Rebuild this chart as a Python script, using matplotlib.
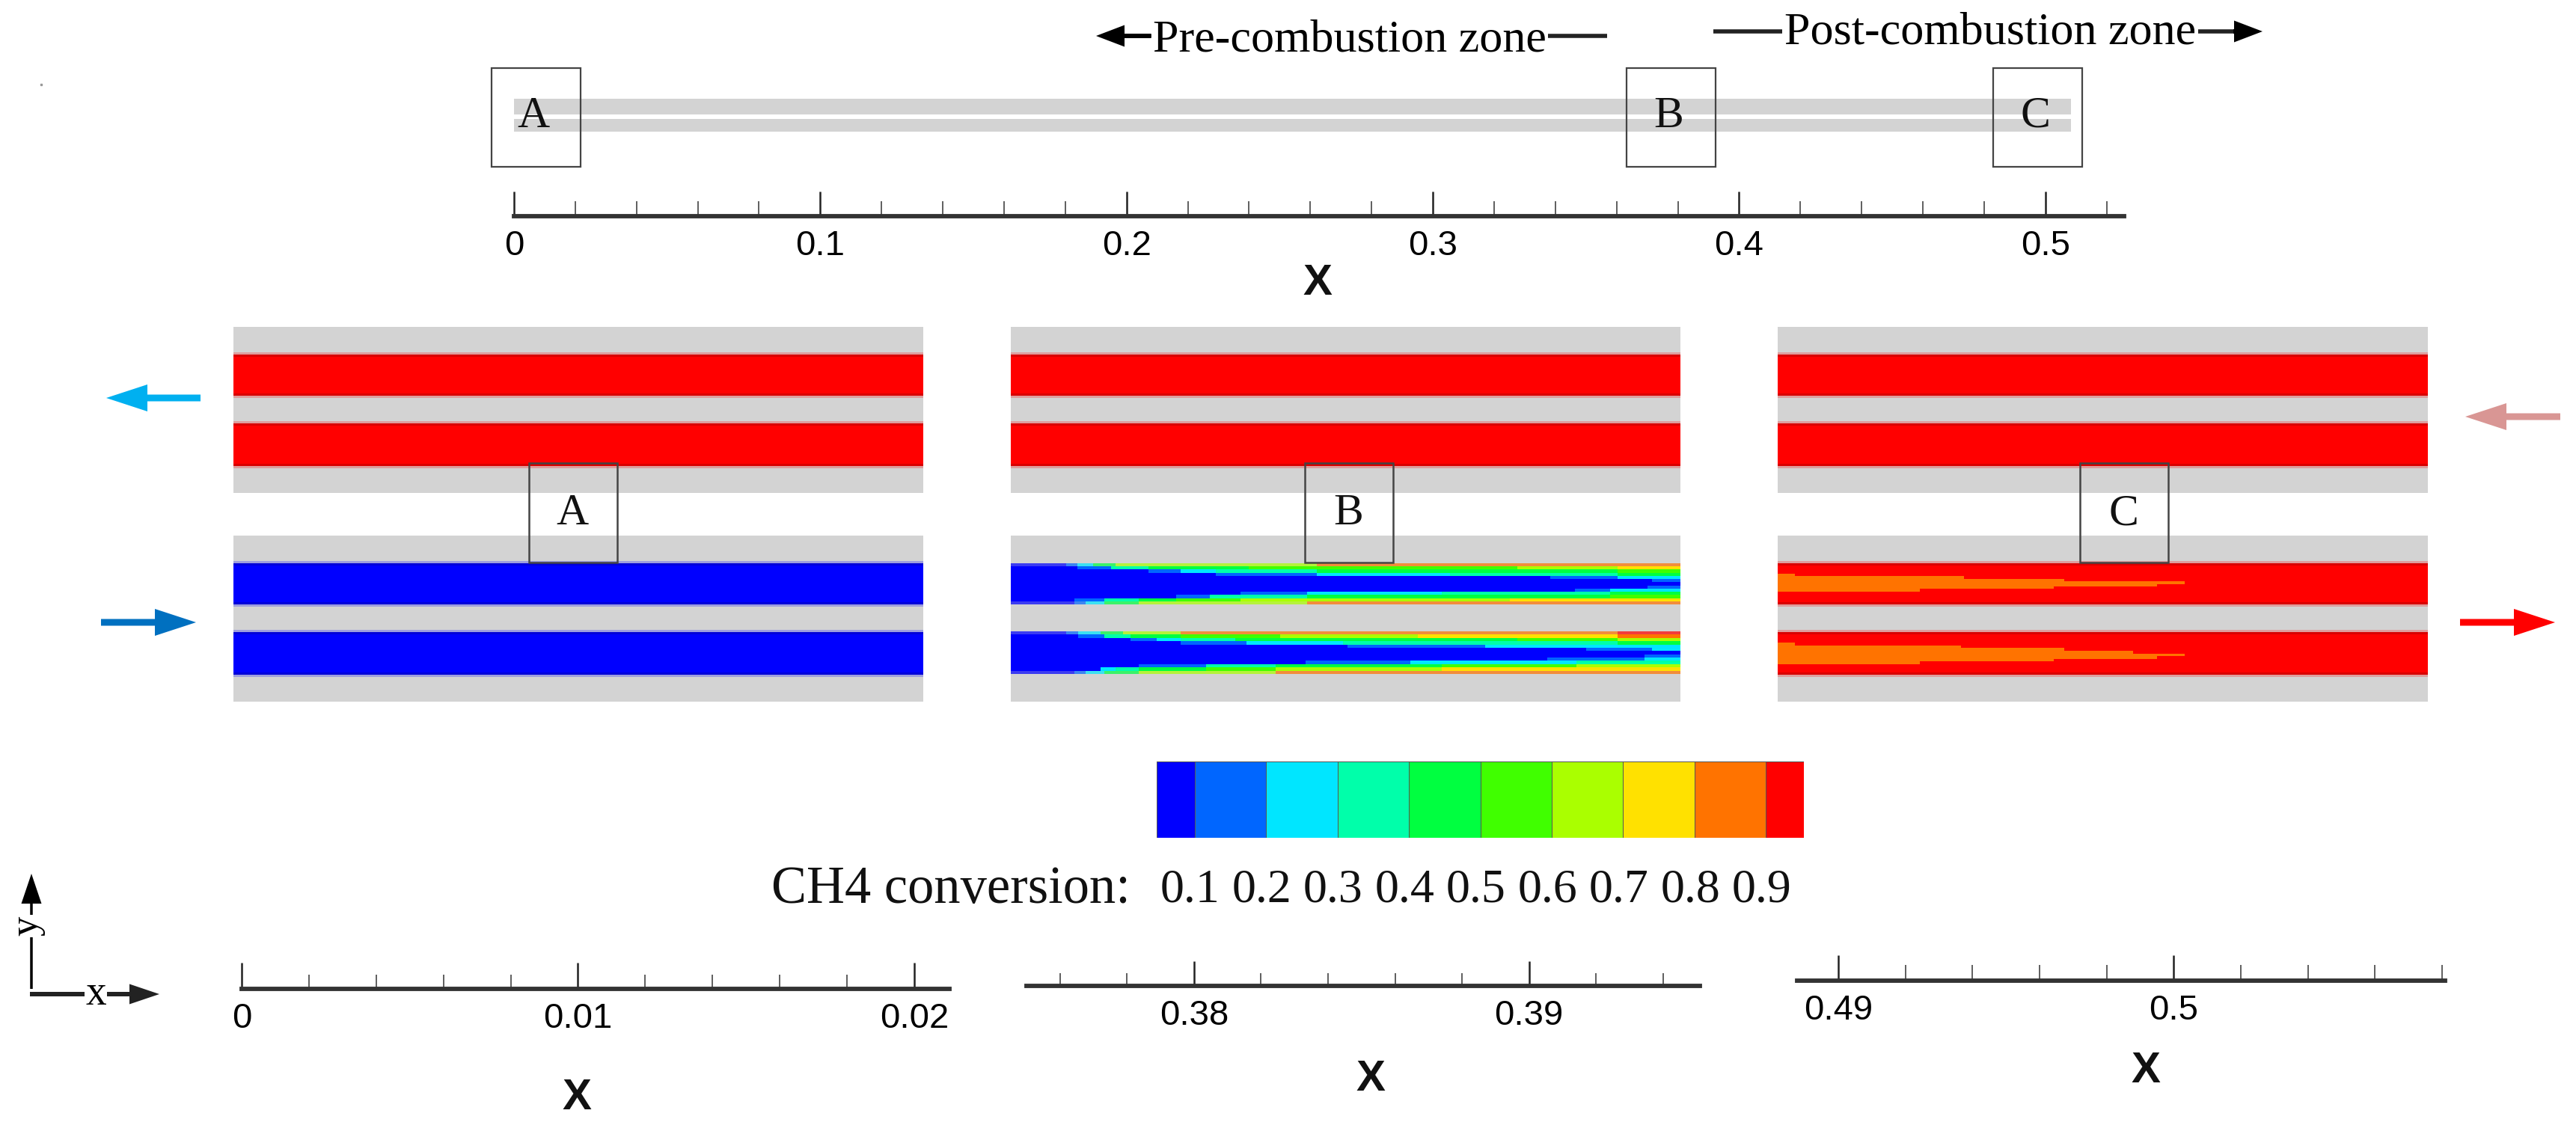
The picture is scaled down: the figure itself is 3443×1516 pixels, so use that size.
import matplotlib
matplotlib.use("Agg")
import matplotlib.pyplot as plt
from matplotlib.colors import ListedColormap, BoundaryNorm
from matplotlib.patches import Rectangle
import numpy as np

W, H = 3443, 1516
SERIF = "Liberation Serif"
SANS = "Liberation Sans"
GRAY = "#d3d3d3"

# contour levels of the CH4 conversion legend
LEVEL_EDGES = [0.047, 0.1, 0.2, 0.3, 0.4, 0.5, 0.6, 0.7, 0.8, 0.9, 0.953]
LEVEL_LABELS = ["0.1", "0.2", "0.3", "0.4", "0.5", "0.6", "0.7", "0.8", "0.9"]
LEVEL_COLORS = ["#0000ff", "#0066ff", "#00e6ff", "#00ffaa", "#00ff40",
                "#40ff00", "#aaff00", "#ffe100", "#ff7300", "#ff0000"]

# rulers: majors, labels, minors
TOP_MAJOR = [0, 0.1, 0.2, 0.3, 0.4, 0.5]
TOP_LABELS = ["0", "0.1", "0.2", "0.3", "0.4", "0.5"]
TOP_MINOR = [0.02, 0.04, 0.06, 0.08, 0.12, 0.14, 0.16, 0.18, 0.22, 0.24, 0.26,
             0.28, 0.32, 0.34, 0.36, 0.38, 0.42, 0.44, 0.46, 0.48, 0.52]
A_MAJOR = [0, 0.01, 0.02]
A_LABELS = ["0", "0.01", "0.02"]
A_MINOR = [0.002, 0.004, 0.006, 0.008, 0.012, 0.014, 0.016, 0.018]
B_MAJOR = [0.38, 0.39]
B_LABELS = ["0.38", "0.39"]
B_MINOR = [0.376, 0.378, 0.382, 0.384, 0.386, 0.388, 0.392, 0.394]
C_MAJOR = [0.49, 0.5]
C_LABELS = ["0.49", "0.5"]
C_MINOR = [0.492, 0.494, 0.496, 0.498, 0.502, 0.504, 0.506, 0.508]

# panel B, channels, one row per mesh layer: (end of cell run, level)
B_UPPER = [
    [(74, 0), (89, 1), (110, 2), (140, 4), (409, 6), (895, 8)],
    [(89, 0), (134, 1), (184, 3), (318, 4), (677, 5), (811, 6), (895, 7)],
    [(184, 0), (227, 1), (274, 2), (409, 3), (811, 4), (895, 5)],
    [(274, 0), (409, 1), (587, 2), (811, 3), (895, 4)],
    [(721, 0), (811, 1), (895, 2)],
    [(857, 0), (895, 1)],
    [(895, 0)],
    [(851, 0), (895, 1)],
    [(754, 0), (801, 1), (895, 2)],
    [(307, 0), (396, 1), (576, 2), (801, 3), (895, 4)],
    [(221, 0), (266, 1), (396, 3), (801, 4), (895, 5)],
    [(85, 0), (125, 1), (171, 3), (221, 4), (307, 5), (667, 6), (895, 7)],
    [(85, 0), (100, 1), (125, 2), (171, 4), (396, 6), (895, 8)],
]
B_LOWER = [
    [(74, 0), (90, 1), (120, 2), (150, 4), (227, 6), (811, 8), (895, 9)],
    [(90, 0), (125, 1), (160, 3), (227, 4), (360, 5), (544, 6), (811, 7), (895, 8)],
    [(160, 0), (195, 1), (227, 2), (300, 3), (677, 4), (811, 5), (895, 6)],
    [(227, 0), (315, 1), (444, 2), (811, 3), (895, 4)],
    [(450, 0), (634, 1), (895, 2)],
    [(769, 0), (857, 1), (895, 2)],
    [(895, 0)],
    [(847, 0), (895, 1)],
    [(717, 0), (847, 1), (895, 2)],
    [(394, 0), (534, 1), (756, 2), (895, 3)],
    [(171, 0), (261, 1), (354, 3), (576, 4), (756, 5), (895, 6)],
    [(120, 0), (140, 2), (171, 3), (261, 4), (354, 5), (576, 6), (895, 7)],
    [(85, 0), (100, 1), (125, 2), (171, 4), (354, 6), (895, 8)],
]

# panel C, how far the 0.8 level reaches in each mesh layer
C_UPPER_REACH = [0, 0, 0, 0, 23, 249, 383, 544, 507, 369, 190, 0, 0, 0, 0, 0]
C_LOWER_REACH = [0, 0, 0, 0, 23, 245, 383, 475, 544, 507, 369, 190, 0, 0, 0, 0]

LEN_A, LEN_B, LEN_C = 922, 895, 869

plt.rcParams["font.family"] = [SANS, "DejaVu Sans"]
fig = plt.figure(figsize=(W / 100, H / 100), dpi=100, facecolor="white")


def px_axes(x0, y0, x1, y1):
    return fig.add_axes([x0 / W, 1 - y1 / H, (x1 - x0) / W, (y1 - y0) / H])


bg = px_axes(0, 0, W, H)
bg.set_xlim(0, W)
bg.set_ylim(H, 0)
bg.axis("off")


def draw_channel(ax, top, height, rows, soften=False):
    h = height / len(rows)
    for i, row in enumerate(rows):
        left = 0
        edge = soften and i in (0, len(rows) - 1)
        for end, lev in row:
            ax.barh(top + i * h, end - left, left=left, height=h, align="edge",
                    color=LEVEL_COLORS[lev], lw=0, antialiased=False,
                    alpha=0.72 if edge else 1)
            left = end


def solid_channel(ax, top, height, length, lev):
    # the scan leaves a pale fringe and a darker rim on each wall
    c = LEVEL_COLORS[lev]
    ax.barh(top - 3, length, height=height + 6, align="edge", color=c, lw=0, alpha=0.25)
    ax.barh(top, length, height=height, align="edge", color=c, lw=0)
    ax.barh(top, length, height=3, align="edge", color="black", lw=0, alpha=0.15)
    ax.barh(top + height - 3, length, height=3, align="edge", color="black", lw=0, alpha=0.15)


def panel(x0, y0, length):
    ax = px_axes(x0, y0, x0 + length, y0 + 222)
    ax.set_xlim(0, length)
    ax.set_ylim(222, 0)
    ax.set_facecolor(GRAY)
    ax.set_xticks([])
    ax.set_yticks([])
    for s in ax.spines.values():
        s.set_visible(False)
    return ax


# upper row all burnt
for x0, length in [(312, LEN_A), (1351, LEN_B), (2376, LEN_C)]:
    ax = panel(x0, 437, length)
    solid_channel(ax, 37, 55, length, 9)
    solid_channel(ax, 129, 57, length, 9)

ax = panel(312, 716, LEN_A)
solid_channel(ax, 37, 55, LEN_A, 0)
solid_channel(ax, 129, 57, LEN_A, 0)

ax = panel(1351, 716, LEN_B)
draw_channel(ax, 37, 55, B_UPPER, soften=True)
draw_channel(ax, 128, 57, B_LOWER, soften=True)

ax = panel(2376, 716, LEN_C)
solid_channel(ax, 37, 55, LEN_C, 9)
solid_channel(ax, 129, 57, LEN_C, 9)
draw_channel(ax, 37, 55, [[(r, 8)] for r in C_UPPER_REACH])
draw_channel(ax, 129, 57, [[(r, 8)] for r in C_LOWER_REACH])

# overlay for the boxes and letters, above the panels
ov = px_axes(0, 0, W, H)
ov.set_xlim(0, W)
ov.set_ylim(H, 0)
ov.axis("off")
ov.patch.set_alpha(0)

# reactor sketch at the top
bg.add_patch(Rectangle((687, 132), 2081, 21, fc=GRAY, lw=0))
bg.add_patch(Rectangle((687, 159), 2081, 17, fc=GRAY, lw=0))

for x, name in zip([657, 2174, 2664], "ABC"):
    ov.add_patch(Rectangle((x, 91), 119, 132, fc="none", ec="#444444", lw=1.6))
    ov.text(x + 56, 156, name, family=SERIF, fontsize=43, ha="center", va="center", color="#111111")

for x, name in zip([707, 1744, 2780], "ABC"):
    ov.add_patch(Rectangle((x, 619), 118, 133, fc="none", ec="#444444", lw=1.8))
    ov.text(x + 58, 687, name, family=SERIF, fontsize=43, ha="center", va="center", color="#111111")


def zone_arrow(x0, x1, y, color="black", width=6, head=38, head_w=29):
    bg.arrow(x0, y, x1 - x0, 0, width=width, head_width=head_w, head_length=head,
             length_includes_head=True, color=color, lw=0)


zone_arrow(1538, 1465, 48)
bg.plot([1538, 2148], [48, 48], color="#222222", lw=4, solid_capstyle="butt", zorder=1)
bg.text(1804, 54, "Pre-combustion zone", family=SERIF, fontsize=44.7, ha="center", va="center",
        bbox=dict(fc="white", ec="none", pad=2))
zone_arrow(2985, 3024, 42)
bg.plot([2290, 2985], [42, 42], color="#222222", lw=4, solid_capstyle="butt", zorder=1)
bg.text(2660, 44, "Post-combustion zone", family=SERIF, fontsize=44.7, ha="center", va="center",
        bbox=dict(fc="white", ec="none", pad=2))

# flow arrows beside the panels
for x0, x1, y, c in [(268, 142, 532, "#00b0f0"), (135, 262, 832, "#0070c0"),
                     (3422, 3295, 557, "#d99694"), (3288, 3415, 832, "#ff0000")]:
    bg.arrow(x0, y, x1 - x0, 0, width=9, head_width=36, head_length=55,
             length_includes_head=True, color=c, lw=0)


def ruler(x0, x1, y, xlim, major, labels, minor, major_len, minor_len, pad):
    ax = px_axes(x0, y - 50, x1, y)
    ax.set_xlim(*xlim)
    ax.set_ylim(0, 1)
    ax.patch.set_alpha(0)
    ax.set_yticks([])
    for s in ("top", "left", "right"):
        ax.spines[s].set_visible(False)
    ax.spines["bottom"].set_linewidth(4.2)
    ax.spines["bottom"].set_color("#333333")
    ax.set_xticks(major)
    ax.set_xticklabels(labels)
    ax.set_xticks(minor, minor=True)
    ax.tick_params(axis="x", which="major", direction="in", length=major_len / 1.389,
                   width=1.8, color="#222222", labelsize=34, pad=pad)
    ax.tick_params(axis="x", which="minor", direction="in", length=minor_len / 1.389,
                   width=1.1, color="#333333")
    return ax


ruler(687, 2839, 289, (0, 0.5257), TOP_MAJOR, TOP_LABELS, TOP_MINOR, 33, 20, 13)
ruler(323, 1269, 1322, (0, 0.02105), A_MAJOR, A_LABELS, A_MINOR, 35, 19, 13)
ruler(1372, 2272, 1318, (0.375, 0.3951), B_MAJOR, B_LABELS, B_MINOR, 33, 17, 13)
ruler(2402, 3268, 1311, (0.48877, 0.50809), C_MAJOR, C_LABELS, C_MINOR, 34, 21, 13)

for x, y in [(1761, 379), (771, 1468), (1832, 1443), (2868, 1432)]:
    bg.text(x, y, "X", fontsize=42, fontweight="bold", ha="center", va="center", color="#111111")

# legend
cax = px_axes(1546, 1018, 2411, 1120)
cax.pcolormesh(LEVEL_EDGES, [0, 1], np.arange(10).reshape(1, -1),
               cmap=ListedColormap(LEVEL_COLORS),
               norm=BoundaryNorm(np.arange(-0.5, 10.5), 10),
               edgecolors="#555555", linewidth=0.6)
cax.set_xlim(LEVEL_EDGES[0], LEVEL_EDGES[-1])
cax.set_ylim(0, 1)
cax.set_xticks([])
cax.set_yticks([])
for s in cax.spines.values():
    s.set_visible(False)

for lev, lab in zip(LEVEL_EDGES[1:-1], LEVEL_LABELS):
    cax.text(lev - 0.006, -0.69, lab, family=SERIF, fontsize=46, ha="center", va="center",
             color="#111111", clip_on=False)
bg.text(1031, 1190, "CH4 conversion:", family=SERIF, fontsize=50.8, ha="left", va="center", color="#111111")

# coordinate triad
bg.arrow(42, 1322, 0, -154, width=3.5, head_width=27, head_length=40,
         length_includes_head=True, color="black", lw=0)
bg.arrow(40, 1329, 173, 0, width=6, head_width=27, head_length=40,
         length_includes_head=True, color="#222222", lw=0)
bg.text(36, 1238, "y", family=SERIF, fontsize=38, rotation=90, ha="center", va="center",
        bbox=dict(fc="white", ec="none", pad=1))
bg.text(128, 1329, "x", family=SERIF, fontsize=40, ha="center", va="center",
        bbox=dict(fc="white", ec="none", pad=1))

# small speck in the source scan
bg.plot([55], [113], marker="s", ms=2, color="#999999", ls="none")

fig.savefig("out.png", dpi=100)
